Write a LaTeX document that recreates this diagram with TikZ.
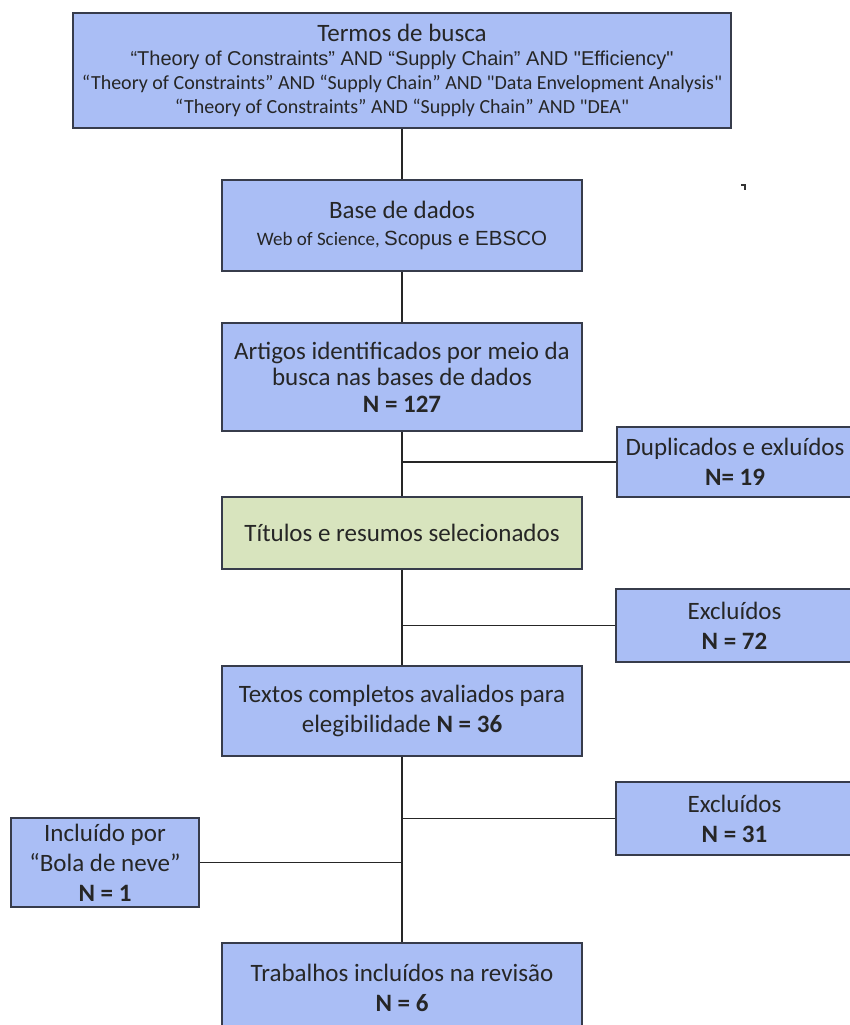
\documentclass[tikz,border=0pt]{standalone}
\usepackage{fontspec}
\setmainfont{Carlito}[Ligatures=TeXOff]
\newfontfamily\arialf{Liberation Sans}
\definecolor{boxblue}{RGB}{170,190,245}
\definecolor{boxgreen}{RGB}{216,228,190}
\definecolor{edgegray}{RGB}{55,60,75}
\tikzset{
  flowbox/.style={draw=edgegray, line width=1.6pt, fill=boxblue, align=center,
    inner sep=2pt, text=black!85},
  greenbox/.style={flowbox, fill=boxgreen},
  link/.style={draw=black!85, line width=1.6pt},
  big/.style={font=\fontsize{25}{30}\selectfont},
}
\begin{document}
\begin{tikzpicture}[x=1pt,y=-1pt]
\useasboundingbox[fill=white] (0,0) rectangle (849,1025);

% search terms
\node[flowbox, font=\fontsize{20}{24}\selectfont, minimum width=658pt, minimum height=115pt] (terms) at (402,70.5)
  {{\fontsize{25}{24}\selectfont Termos de busca}\\
   {\arialf “Theory of Constraints” AND “Supply Chain” AND "Efficiency"}\\
   “Theory of Constraints” AND “Supply Chain” AND "Data Envelopment Analysis"\\
   “Theory of Constraints” AND “Supply Chain” AND "DEA"};

% databases
\node[flowbox, font=\fontsize{19}{27}\selectfont, minimum width=360pt, minimum height=91pt] (base) at (402,225.5)
  {{\fontsize{25}{27}\selectfont Base de dados}\\
   Web of Science, {\arialf\fontsize{20.5}{27}\selectfont Scopus e EBSCO}};

% identified records
\node[flowbox, font=\fontsize{25}{26.5}\selectfont, minimum width=360pt, minimum height=108pt] (found) at (402,377)
  {Artigos identificados por meio da\\ busca nas bases de dados\\ \textbf{N = 127}};

% duplicates
\node[flowbox, big, minimum width=236pt, minimum height=70pt] (dup) at (735,462)
  {Duplicados e exluídos\\ \textbf{N= 19}};

% screened titles and abstracts
\node[greenbox, big, minimum width=360pt, minimum height=72pt] (screen) at (402,533)
  {Títulos e resumos selecionados};

% excluded after screening
\node[flowbox, big, minimum width=237pt, minimum height=73pt] (exca) at (734.5,625.5)
  {Excluídos\\ \textbf{N = 72}};

% full texts
\node[flowbox, big, minimum width=360pt, minimum height=90pt] (full) at (402,711)
  {Textos completos avaliados para\\ elegibilidade \textbf{N = 36}};

% excluded after full-text reading
\node[flowbox, big, minimum width=237pt, minimum height=73pt] (excb) at (734.5,818.5)
  {Excluídos\\ \textbf{N = 31}};

% snowball
\node[flowbox, big, minimum width=188pt, minimum height=89pt] (snow) at (105,862.5)
  {Incluído por\\ “Bola de neve”\\ \textbf{N = 1}};

% included studies
\node[flowbox, big, minimum width=360pt, minimum height=89pt] (incl) at (402,987.5)
  {Trabalhos incluídos na revisão\\ \textbf{N = 6}};

% main flow
\draw[link] (terms.south -| base.north) -- (base.north);
\draw[link] (base) -- (found);
\draw[link] (found) -- (screen);
\draw[link] (screen) -- (full);
\draw[link] (full) -- (incl);

% side branches
\draw[link] (found.south |- dup.west) -- (dup.west);
\draw[link] (screen.south |- exca.west) -- (exca.west);
\draw[link] (full.south |- excb.west) -- (excb.west);
\draw[link] (full.south |- snow.east) -- (snow.east);

% small stray mark
\draw[line width=1.4pt, black!80] (741,185) -- (745,185) -- (745,190);
\end{tikzpicture}
\end{document}
